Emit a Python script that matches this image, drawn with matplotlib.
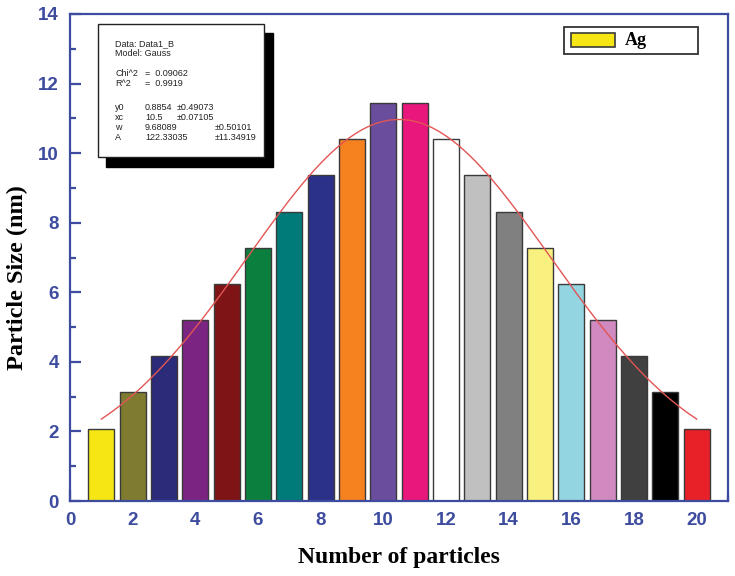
import numpy as np
import matplotlib
matplotlib.use("Agg")
import matplotlib.pyplot as plt
from matplotlib.patches import Rectangle
from matplotlib.ticker import MultipleLocator

particles = list(range(1, 21))
sizes = [2.08, 3.12, 4.16, 5.20, 6.24, 7.28, 8.32, 9.36, 10.40, 11.44,
         11.44, 10.40, 9.36, 8.32, 7.28, 6.24, 5.20, 4.16, 3.12, 2.08]
bar_colors = ["#f5e614", "#7f7c32", "#2b2b7a", "#7b2482", "#7e1416",
              "#0b7f3d", "#017a7a", "#2b3189", "#f6821f", "#6a4d9d",
              "#e9177b", "#ffffff", "#c0c0c0", "#808080", "#f8f07f",
              "#93d5e1", "#d08ac0", "#404040", "#000000", "#e82027"]
# Gauss fit parameters (from the fit report)
y0, xc, w, A = 0.8854, 10.5, 9.68089, 122.33035

W, H = 735, 576
fig = plt.figure(figsize=(W / 100, H / 100), dpi=100)
L, R, T, B = 70, 728, 14, 501
ax = fig.add_axes([L / W, 1 - B / H, (R - L) / W, (B - T) / H])

blue = "#3d4c9e"
ax.bar(particles, sizes, width=0.82, color=bar_colors, edgecolor="#3a3a3a",
       linewidth=1.0, zorder=2)
xf = np.linspace(1, 20, 200)
yf = y0 + A / (w * np.sqrt(np.pi / 2)) * np.exp(-2 * ((xf - xc) / w) ** 2)
ax.plot(xf, yf, color="#e25555", lw=1.0, zorder=3)

ax.set_xlim(0, 21)
ax.set_ylim(0, 14)
ax.xaxis.set_major_locator(MultipleLocator(2))
ax.xaxis.set_minor_locator(MultipleLocator(1))
ax.yaxis.set_major_locator(MultipleLocator(2))
ax.yaxis.set_minor_locator(MultipleLocator(1))
ax.tick_params(which="both", direction="in", color=blue, width=1.6,
               top=False, right=False)
ax.tick_params(which="major", length=8)
ax.tick_params(which="minor", length=4.5)
ax.tick_params(axis="both", which="major", labelsize=13.5, labelcolor=blue, pad=8)
for lab in ax.get_xticklabels() + ax.get_yticklabels():
    lab.set_fontweight("bold")
    lab.set_fontfamily("Liberation Sans")
for sp in ax.spines.values():
    sp.set_color(blue)
    sp.set_linewidth(1.6)

ax.set_xlabel("Number of particles", fontsize=17, fontweight="bold",
              family="Liberation Serif")
ax.set_ylabel("Particle Size (nm)", fontsize=17.5, fontweight="bold",
              family="Liberation Serif")
ax.xaxis.label.set_va("center")
ax.xaxis.set_label_coords(0.5, (B - 557) / (B - T))
ax.yaxis.label.set_va("center")
ax.yaxis.label.set_ha("center")
ax.yaxis.set_label_coords((17 - L) / (R - L), (B - 278) / (B - T))


def fx(px):
    return px / W


def fy(py):
    return 1 - py / H


# legend (drawn by hand to match the original frame)
fig.patches.append(Rectangle((fx(564), fy(54)), fx(698) - fx(564), fy(27) - fy(54),
                             transform=fig.transFigure, facecolor="white",
                             edgecolor="#333333", lw=1.3, zorder=10))
fig.patches.append(Rectangle((fx(571), fy(47)), fx(615) - fx(571), fy(33) - fy(47),
                             transform=fig.transFigure, facecolor=bar_colors[0],
                             edgecolor="#3a3a3a", lw=1.2, zorder=11))
fig.text(fx(625), fy(40.5), "Ag", fontsize=13, fontweight="bold",
         family="Liberation Serif", va="center", ha="left", zorder=12)

# fit report box
shadow = Rectangle((fx(106), fy(167)), fx(273) - fx(106), fy(33) - fy(167),
                   transform=fig.transFigure, facecolor="black",
                   edgecolor="black", zorder=10)
box = Rectangle((fx(98), fy(157)), fx(264) - fx(98), fy(24) - fy(157),
                transform=fig.transFigure, facecolor="white",
                edgecolor="#222222", lw=1.0, zorder=11)
fig.patches.extend([shadow, box])

tkw = dict(fontsize=6.5, family="Liberation Sans", color="#222222",
           zorder=12, va="center")
fig.text(fx(115), fy(44), "Data: Data1_B", **tkw)
fig.text(fx(115), fy(54), "Model: Gauss", **tkw)
fig.text(fx(115), fy(74), "Chi^2", **tkw)
fig.text(fx(145), fy(74), "=  0.09062", **tkw)
fig.text(fx(115), fy(84), "R^2", **tkw)
fig.text(fx(145), fy(84), "=  0.9919", **tkw)
fig.text(fx(115), fy(108), "y0", **tkw)
fig.text(fx(145), fy(108), "0.8854", **tkw)
fig.text(fx(177), fy(108), "\u00b10.49073", **tkw)
fig.text(fx(115), fy(118), "xc", **tkw)
fig.text(fx(145), fy(118), "10.5", **tkw)
fig.text(fx(177), fy(118), "\u00b10.07105", **tkw)
fig.text(fx(115), fy(127), "w", **tkw)
fig.text(fx(145), fy(127), "9.68089", **tkw)
fig.text(fx(215), fy(127), "\u00b10.50101", **tkw)
fig.text(fx(115), fy(137), "A", **tkw)
fig.text(fx(145), fy(137), "122.33035", **tkw)
fig.text(fx(215), fy(137), "\u00b111.34919", **tkw)

fig.savefig("out.png", dpi=100)
